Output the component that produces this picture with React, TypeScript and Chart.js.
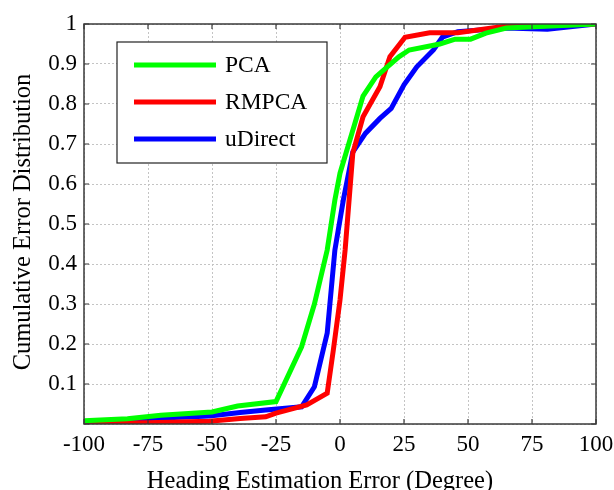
import React, { useEffect, useRef } from 'react';
import { Chart, registerables } from 'chart.js';
Chart.register(...registerables);

const seriesNames = ['PCA', 'RMPCA', 'uDirect'];
const seriesColors = ['#00ff00', '#ff0000', '#0000ff'];

const pcaX = [-100, -83, -70, -50, -40, -25, -15, -10, -5, -2, 0, 9, 14, 23, 27, 39, 45, 51, 57, 65, 100];
const pcaY = [0.008, 0.013, 0.022, 0.03, 0.045, 0.056, 0.193, 0.3, 0.435, 0.56, 0.627, 0.82, 0.868, 0.918, 0.935, 0.95, 0.962, 0.962, 0.977, 0.99, 1.0];

const rmpcaX = [-100, -75, -51, -39, -29, -25, -13, -5, -2.6, 0, 2, 5, 9, 15.6, 19.5, 25.4, 35, 46, 65, 100];
const rmpcaY = [0.002, 0.003, 0.007, 0.014, 0.018, 0.027, 0.0475, 0.077, 0.185, 0.31, 0.435, 0.677, 0.768, 0.843, 0.918, 0.967, 0.978, 0.978, 0.995, 1.0];

const udirectX = [-100, -90, -81, -51, -39, -29, -15, -10, -5, -2, 1.3, 5, 10, 15.6, 20, 25, 30, 36.5, 40, 46, 65, 81, 100];
const udirectY = [0.003, 0.004, 0.012, 0.02, 0.029, 0.035, 0.043, 0.093, 0.227, 0.435, 0.56, 0.68, 0.727, 0.764, 0.789, 0.848, 0.893, 0.935, 0.967, 0.981, 0.99, 0.987, 1.0];

const xTickValues = [-100, -75, -50, -25, 0, 25, 50, 75, 100];
const yTickValues = [0, 0.1, 0.2, 0.3, 0.4, 0.5, 0.6, 0.7, 0.8, 0.9, 1];

const xTitle = 'Heading Estimation Error (Degree)';
const yTitle = 'Cumulative Error Distribution';

const FONT = '"Liberation Serif", "Times New Roman", serif';
const W = 614;
const H = 490;

function pts(xs: number[], ys: number[]) {
  return xs.map((x, i) => ({ x, y: ys[i] }));
}

const framePlugin = {
  id: 'frame',
  afterDraw(chart: any) {
    const { ctx, chartArea: a, scales } = chart;
    ctx.save();
    // frame
    ctx.strokeStyle = '#3a3a3a';
    ctx.lineWidth = 1.5;
    ctx.strokeRect(a.left, a.top, a.right - a.left, a.bottom - a.top);
    // inward ticks
    ctx.lineWidth = 1.2;
    const tl = 5;
    ctx.beginPath();
    xTickValues.forEach((v) => {
      const px = scales.x.getPixelForValue(v);
      ctx.moveTo(px, a.bottom);
      ctx.lineTo(px, a.bottom - tl);
      ctx.moveTo(px, a.top);
      ctx.lineTo(px, a.top + tl);
    });
    yTickValues.forEach((v) => {
      const py = scales.y.getPixelForValue(v);
      ctx.moveTo(a.left, py);
      ctx.lineTo(a.left + tl, py);
      ctx.moveTo(a.right, py);
      ctx.lineTo(a.right - tl, py);
    });
    ctx.stroke();

    // legend
    const bx = 117, by = 42, bw = 210, bh = 121;
    ctx.fillStyle = '#ffffff';
    ctx.fillRect(bx, by, bw, bh);
    ctx.strokeStyle = '#222';
    ctx.lineWidth = 1.2;
    ctx.strokeRect(bx, by, bw, bh);
    seriesNames.forEach((name, i) => {
      const y = 65 + i * 37;
      ctx.strokeStyle = seriesColors[i];
      ctx.lineWidth = 5;
      ctx.beginPath();
      ctx.moveTo(134, y);
      ctx.lineTo(216, y);
      ctx.stroke();
      ctx.fillStyle = '#000';
      ctx.font = `23.5px ${FONT}`;
      ctx.textAlign = 'left';
      ctx.textBaseline = 'middle';
      ctx.fillText(name, 225, y + 1);
    });

    // axis titles
    ctx.fillStyle = '#000';
    ctx.font = `24.5px ${FONT}`;
    ctx.textAlign = 'center';
    ctx.textBaseline = 'alphabetic';
    ctx.fillText(xTitle, 320, 488);
    ctx.save();
    ctx.translate(30, 222);
    ctx.rotate(-Math.PI / 2);
    ctx.fillText(yTitle, 0, 0);
    ctx.restore();
    ctx.restore();
  },
};

export default function App() {
  const ref = useRef<HTMLCanvasElement>(null);
  useEffect(() => {
    if (!ref.current) return;
    const chart = new Chart(ref.current, {
      type: 'line',
      data: {
        datasets: [
          { label: seriesNames[0], data: pts(pcaX, pcaY), borderColor: seriesColors[0] },
          { label: seriesNames[1], data: pts(rmpcaX, rmpcaY), borderColor: seriesColors[1] },
          { label: seriesNames[2], data: pts(udirectX, udirectY), borderColor: seriesColors[2] },
        ].map((d) => ({ ...d, borderWidth: 5, pointRadius: 0, tension: 0, fill: false })),
      },
      options: {
        responsive: false,
        animation: false,
        devicePixelRatio: 1,
        layout: { padding: { left: 0, top: 24, right: 18, bottom: 0 } },
        plugins: { legend: { display: false }, tooltip: { enabled: false } },
        scales: {
          x: {
            type: 'linear',
            min: -100,
            max: 100,
            afterBuildTicks: (s: any) => {
              s.ticks = xTickValues.map((v) => ({ value: v }));
            },
            afterFit: (s: any) => {
              s.height = H - 424;
              s.paddingLeft = 0;
              s.paddingRight = 0;
            },
            grid: { color: '#c4c4c4', lineWidth: 1, drawTicks: false },
            border: { display: false, dash: [2, 2] },
            ticks: {
              color: '#000',
              font: { family: FONT, size: 23 },
              padding: 7,
              maxRotation: 0,
              autoSkip: false,
              callback: (v: any) => String(v),
            },
          },
          y: {
            type: 'linear',
            min: 0,
            max: 1,
            afterBuildTicks: (s: any) => {
              s.ticks = yTickValues.map((v) => ({ value: v }));
            },
            afterFit: (s: any) => {
              s.width = 84;
              s.paddingTop = 0;
              s.paddingBottom = 0;
            },
            grid: { color: '#c4c4c4', lineWidth: 1, drawTicks: false },
            border: { display: false, dash: [2, 2] },
            ticks: {
              color: '#000',
              font: { family: FONT, size: 23 },
              padding: 7,
              autoSkip: false,
              callback: (v: any) => (v === 0 ? '' : String(Math.round(v * 10) / 10)),
            },
          },
        },
      },
      plugins: [framePlugin],
    } as any);
    return () => chart.destroy();
  }, []);
  return (
    <div style={{ position: 'fixed', left: 0, top: 0, width: W, height: H, background: '#fff' }}>
      <canvas ref={ref} width={W} height={H} style={{ width: W, height: H }} />
    </div>
  );
}
